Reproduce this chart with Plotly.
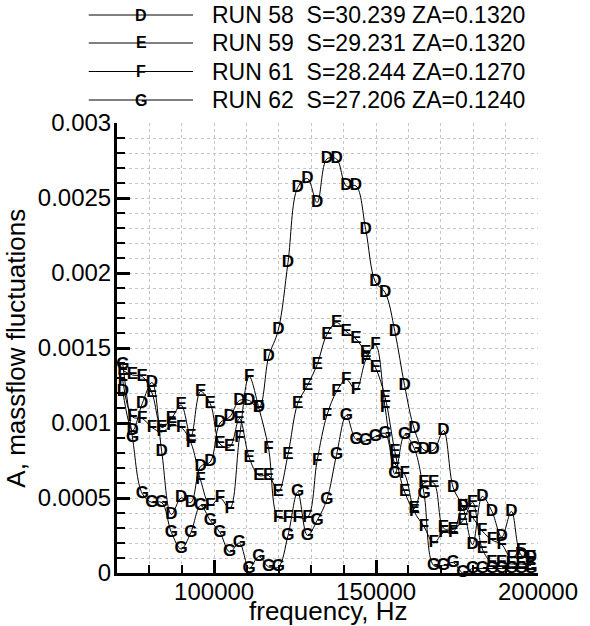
import plotly.graph_objects as go

# ---------------- data ----------------
freq = [71800, 74800, 77800, 80800, 83800, 86800, 89800, 92800, 95800, 98800,
        101800, 104800, 107800, 110800, 113800, 116800, 119800, 122800, 125800, 128800,
        131800, 134800, 137800, 140800, 143800, 146800, 149800, 152800, 155800, 158800,
        161800, 164800, 167800, 170800, 173800, 176800, 179800, 182800, 185800, 188800,
        191800, 194800, 197800]

run58 = [0.00121, 0.00095, 0.00113, 0.00127, 0.00081, 0.00039, 0.00050, 0.00047, 0.00071, 0.00074,
         0.00100, 0.00104, 0.00115, 0.00115, 0.00110, 0.00144, 0.00162, 0.00207, 0.00257, 0.00263,
         0.00247, 0.00276, 0.00276, 0.00258, 0.00258, 0.00229, 0.00194, 0.00187, 0.00161, 0.00125,
         0.00096, 0.00082, 0.00082, 0.00095, 0.00057, 0.00044, 0.00019, 0.00051, 0.00041, 0.00024,
         0.00041, 0.00012, 0.00010]

run59 = [0.00135, 0.00132, 0.00131, 0.00120, 0.00097, 0.00103, 0.00112, 0.00091, 0.00121, 0.00113,
         0.00086, 0.00084, 0.00103, 0.00077, 0.00065, 0.00065, 0.00054, 0.00079, 0.00113, 0.00125,
         0.00139, 0.00159, 0.00167, 0.00161, 0.00156, 0.00147, 0.00137, 0.00117, 0.00081, 0.00054,
         0.00043, 0.00060, 0.00060, 0.00030, 0.00029, 0.00035, 0.00047, 0.00016, 0.00007, 0.00007,
         0.00006, 0.00006, 0.00005]

run61 = [0.00128, 0.00104, 0.00103, 0.00097, 0.00094, 0.00098, 0.00097, 0.00087, 0.00062, 0.00045,
         0.00050, 0.00043, 0.00090, 0.00131, 0.00110, 0.00083, 0.00037, 0.00037, 0.00037, 0.00037,
         0.00075, 0.00105, 0.00121, 0.00129, 0.00122, 0.00142, 0.00152, 0.00110, 0.00073, 0.00066,
         0.00041, 0.00031, 0.00020, 0.00027, 0.00027, 0.00044, 0.00037, 0.00028, 0.00022, 0.00019,
         0.00010, 0.00015, 0.00010]

run62 = [0.00139, 0.00090, 0.00053, 0.00047, 0.00047, 0.00027, 0.00016, 0.00027, 0.00045, 0.00035,
         0.00027, 0.00014, 0.00020, 0.00003, 0.00011, 0.00004, 0.00004, 0.00025, 0.00054, 0.00025,
         0.00035, 0.00049, 0.00079, 0.00105, 0.00089, 0.00088, 0.00091, 0.00093, 0.00066, 0.00092,
         0.00083, 0.00053, 0.00005, 0.00005, 0.00007, 0.00000, 0.00003, 0.00003, 0.00003, 0.00003,
         0.00003, 0.00003, 0.00003]

series = [run58, run59, run61, run62]
letters = ["D", "E", "F", "G"]
labels = ["RUN 58  S=30.239 ZA=0.1320",
          "RUN 59  S=29.231 ZA=0.1320",
          "RUN 61  S=28.244 ZA=0.1270",
          "RUN 62  S=27.206 ZA=0.1240"]

x_ticks = [100000, 150000, 200000]
x_tick_text = ["100000", "150000", "200000"]
y_ticks = [0, 0.0005, 0.001, 0.0015, 0.002, 0.0025, 0.003]
y_tick_text = ["0", "0.0005", "0.001", "0.0015", "0.002", "0.0025", "0.003"]

x_title = "frequency, Hz"
y_title = "A, massflow fluctuations"

# ---------------- figure ----------------
FONT = "Liberation Sans, Arial, Helvetica, sans-serif"
fig = go.Figure()

for vals, let in zip(series, letters):
    fig.add_trace(go.Scatter(
        x=freq, y=vals, mode="lines+text",
        text=[let] * len(vals), textposition="middle center",
        textfont=dict(family=FONT, size=17, color="black", weight="bold"),
        line=dict(color="black", width=1, shape="spline", smoothing=1.0),
        cliponaxis=False, showlegend=False, hoverinfo="skip"))

# custom legend (paper coordinates relative to plot area)
W, H = 432.0, 450.0
L, T = 117.0, 123.0
def px(xp):
    return (xp - L) / W
def py(yp):
    return (T + H - yp) / H

rows = [15, 43, 71.5, 100]
shapes = []
annotations = []
for let, lab, r in zip(letters, labels, rows):
    shapes.append(dict(type="line", xref="paper", yref="paper",
                       x0=px(88), x1=px(195), y0=py(r), y1=py(r),
                       line=dict(color="black", width=1)))
    annotations.append(dict(xref="paper", yref="paper", x=px(142), y=py(r),
                            text="<b>%s</b>" % let, showarrow=False,
                            xanchor="center", yanchor="middle",
                            font=dict(family=FONT, size=16, color="black")))
    annotations.append(dict(xref="paper", yref="paper", x=px(212), y=py(r),
                            text=lab.replace("  ", "&nbsp; "), showarrow=False,
                            xanchor="left", yanchor="middle",
                            font=dict(family=FONT, size=23, color="black")))

annotations.append(dict(xref="paper", yref="paper", x=0.5, y=py(611),
                        text=x_title, showarrow=False, xanchor="center", yanchor="middle",
                        font=dict(family=FONT, size=26, color="black")))
annotations.append(dict(xref="paper", yref="paper", x=px(13), y=0.5,
                        text=y_title, showarrow=False, textangle=-90,
                        xanchor="center", yanchor="middle",
                        font=dict(family=FONT, size=26, color="black")))

grid = dict(showgrid=True, gridcolor="#c4c4c4", gridwidth=1, griddash="dot")

fig.update_layout(
    width=590, height=626,
    margin=dict(l=117, r=41, t=123, b=53),
    paper_bgcolor="white", plot_bgcolor="white",
    font=dict(family=FONT, size=23, color="black"),
    shapes=shapes, annotations=annotations,
    xaxis=dict(range=[70000, 200000], tickvals=x_ticks, ticktext=x_tick_text,
               ticks="inside", ticklen=13, tickwidth=3, tickcolor="black",
               showline=True, linecolor="black", linewidth=3,
               zeroline=False, tickfont=dict(size=24), ticklabelstandoff=-5,
               minor=dict(dtick=10000, tick0=0, ticks="inside", ticklen=8, tickwidth=2,
                          tickcolor="black", **grid),
               **grid),
    yaxis=dict(range=[0, 0.003], tickvals=y_ticks, ticktext=y_tick_text,
               ticks="inside", ticklen=13, tickwidth=3, tickcolor="black",
               showline=True, linecolor="black", linewidth=3,
               zeroline=False, tickfont=dict(size=24), ticklabelstandoff=-2,
               minor=dict(dtick=0.0001, tick0=0, ticks="inside", ticklen=8, tickwidth=2,
                          tickcolor="black", **grid),
               **grid),
)

fig.write_html("out.html")
